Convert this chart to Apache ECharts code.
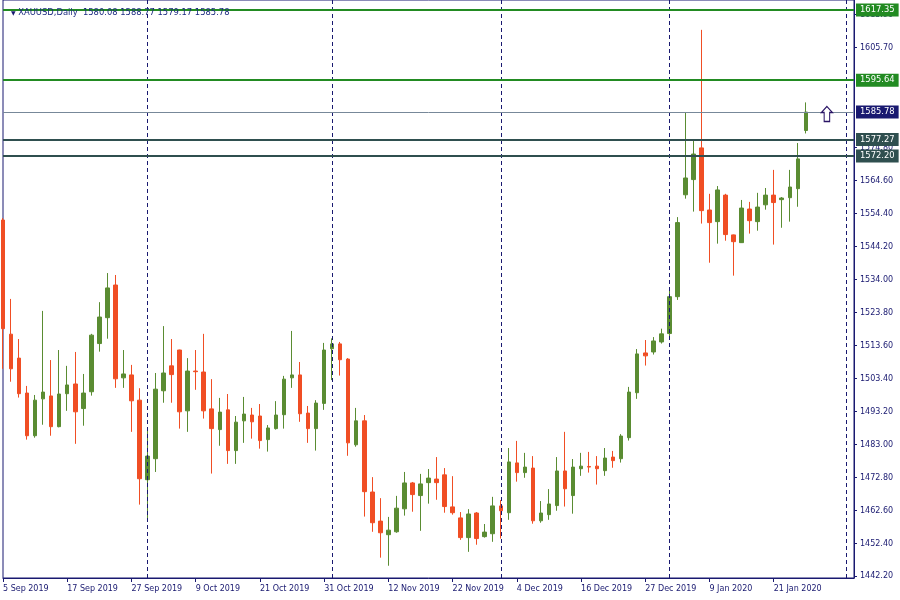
<!DOCTYPE html>
<html><head><meta charset="utf-8">
<script src="https://cdn.jsdelivr.net/npm/echarts@6/dist/echarts.min.js"></script>
<style>html,body{margin:0;padding:0;background:#fff}#c{width:900px;height:600px}</style>
</head><body><div id="c"></div>
<script>
const symbolName = 'XAUUSD,Daily';
const dates = [
'5 Sep 2019','6 Sep 2019','9 Sep 2019','10 Sep 2019','11 Sep 2019','12 Sep 2019','13 Sep 2019','16 Sep 2019',
'17 Sep 2019','18 Sep 2019','19 Sep 2019','20 Sep 2019','23 Sep 2019','24 Sep 2019','25 Sep 2019','26 Sep 2019',
'27 Sep 2019','30 Sep 2019','1 Oct 2019','2 Oct 2019','3 Oct 2019','4 Oct 2019','7 Oct 2019','8 Oct 2019',
'9 Oct 2019','10 Oct 2019','11 Oct 2019','14 Oct 2019','15 Oct 2019','16 Oct 2019','17 Oct 2019','18 Oct 2019',
'21 Oct 2019','22 Oct 2019','23 Oct 2019','24 Oct 2019','25 Oct 2019','28 Oct 2019','29 Oct 2019','30 Oct 2019',
'31 Oct 2019','1 Nov 2019','4 Nov 2019','5 Nov 2019','6 Nov 2019','7 Nov 2019','8 Nov 2019','11 Nov 2019',
'12 Nov 2019','13 Nov 2019','14 Nov 2019','15 Nov 2019','18 Nov 2019','19 Nov 2019','20 Nov 2019','21 Nov 2019',
'22 Nov 2019','25 Nov 2019','26 Nov 2019','27 Nov 2019','28 Nov 2019','29 Nov 2019','2 Dec 2019','3 Dec 2019',
'4 Dec 2019','5 Dec 2019','6 Dec 2019','9 Dec 2019','10 Dec 2019','11 Dec 2019','12 Dec 2019','13 Dec 2019',
'16 Dec 2019','17 Dec 2019','18 Dec 2019','19 Dec 2019','20 Dec 2019','23 Dec 2019','24 Dec 2019','26 Dec 2019',
'27 Dec 2019','30 Dec 2019','31 Dec 2019','2 Jan 2020','3 Jan 2020','6 Jan 2020','7 Jan 2020','8 Jan 2020',
'9 Jan 2020','10 Jan 2020','13 Jan 2020','14 Jan 2020','15 Jan 2020','16 Jan 2020','17 Jan 2020','20 Jan 2020',
'21 Jan 2020','22 Jan 2020','23 Jan 2020','24 Jan 2020','27 Jan 2020',
'28 Jan 2020','29 Jan 2020','30 Jan 2020','31 Jan 2020','3 Feb 2020','4 Feb 2020'
];
const opens = [
1552.4,1517.1,1509.7,1498.9,1485.7,1497.1,1498.0,1488.5,1498.7,1501.7,1494.1,1499.3,1514.2,1522.2,1532.3,1503.6,
1504.5,1496.7,1472.1,1478.6,1499.6,1507.3,1512.2,1493.4,1505.7,1505.4,1494.0,1487.6,1493.7,1481.1,1490.3,1492.1,
1491.8,1484.5,1487.9,1492.2,1503.6,1504.5,1492.7,1487.9,1495.7,1512.6,1514.1,1509.4,1482.9,1490.3,1468.3,1459.3,
1455.1,1456.0,1463.1,1471.1,1467.2,1471.2,1472.3,1473.6,1463.7,1460.3,1454.2,1461.8,1454.5,1455.4,1464.0,1461.9,
1477.3,1474.3,1475.7,1459.4,1461.3,1464.1,1474.8,1467.2,1475.5,1476.2,1476.3,1474.9,1479.1,1478.6,1485.1,1499.0,
1511.3,1511.6,1514.7,1517.3,1528.7,1560.2,1564.9,1574.7,1555.5,1551.9,1560.1,1547.8,1545.4,1555.8,1551.9,1557.1,
1560.1,1558.7,1559.3,1562.1,1580.08
];
const highs = [
1553.0,1528.0,1515.6,1501.1,1498.3,1524.3,1509.1,1512.2,1507.3,1511.6,1504.8,1517.2,1527.0,1536.0,1535.4,1512.2,
1507.6,1500.4,1487.5,1505.1,1519.6,1515.6,1512.3,1509.7,1512.2,1517.2,1503.2,1497.4,1498.6,1491.8,1497.7,1494.3,
1495.5,1489.0,1496.4,1504.2,1518.1,1508.5,1494.9,1496.7,1514.4,1515.8,1514.7,1509.7,1494.3,1492.1,1472.9,1466.4,
1460.6,1467.1,1474.5,1471.4,1473.9,1475.4,1479.1,1475.7,1473.2,1462.1,1463.0,1462.1,1458.4,1466.8,1465.8,1481.9,
1484.1,1480.4,1479.4,1465.5,1469.2,1479.1,1486.9,1478.5,1480.4,1480.7,1479.4,1481.9,1481.0,1486.2,1500.8,1512.5,
1515.3,1516.2,1518.8,1531.5,1553.3,1585.7,1576.9,1611.2,1560.5,1562.9,1560.5,1547.9,1558.6,1558.0,1560.8,1562.3,
1567.9,1559.5,1567.9,1576.2,1588.77
];
const lows = [
1506.4,1502.4,1497.5,1484.5,1485.1,1489.1,1485.7,1488.3,1493.4,1483.2,1488.8,1498.1,1511.7,1515.7,1500.5,1500.5,
1486.9,1464.4,1459.1,1474.5,1495.9,1495.9,1487.9,1486.9,1499.9,1491.0,1474.0,1482.6,1477.0,1477.0,1483.5,1484.8,
1481.7,1480.8,1487.6,1487.9,1500.5,1490.0,1483.5,1481.1,1493.7,1502.9,1504.3,1479.5,1482.3,1460.7,1456.0,1448.0,
1445.5,1455.7,1461.0,1462.2,1456.3,1464.7,1465.9,1461.9,1461.3,1453.5,1449.8,1452.0,1454.2,1452.9,1453.9,1459.7,
1471.5,1472.7,1458.5,1458.8,1459.7,1462.5,1463.8,1461.6,1473.3,1474.3,1470.6,1473.3,1475.8,1477.4,1484.2,1497.1,
1507.4,1510.8,1514.2,1516.0,1527.7,1559.0,1555.0,1551.3,1539.2,1545.1,1546.0,1535.2,1545.3,1548.2,1549.1,1555.6,
1544.8,1550.0,1551.9,1556.5,1579.17
];
const closes = [
1518.8,1506.4,1498.7,1485.7,1496.7,1499.2,1488.5,1498.6,1501.4,1493.1,1498.9,1516.8,1522.4,1531.4,1503.3,1504.8,
1496.5,1472.4,1479.4,1500.1,1505.1,1504.6,1493.1,1505.7,1505.5,1493.4,1487.9,1493.0,1481.1,1489.9,1492.4,1490.0,
1484.2,1488.1,1492.1,1503.2,1504.5,1492.5,1487.9,1495.8,1512.2,1514.1,1509.2,1483.5,1490.3,1468.4,1458.8,1455.7,
1456.5,1463.3,1471.1,1467.5,1470.8,1472.6,1471.2,1463.8,1461.9,1454.2,1461.5,1453.9,1455.9,1464.0,1462.5,1477.6,
1474.3,1476.0,1459.4,1461.8,1464.6,1474.8,1469.3,1476.0,1476.3,1476.0,1475.5,1478.8,1478.0,1485.6,1499.2,1511.0,
1510.4,1515.0,1517.2,1528.7,1551.6,1565.4,1572.8,1555.3,1551.6,1561.7,1547.9,1545.7,1556.1,1552.2,1556.4,1560.1,
1557.8,1559.2,1562.6,1571.3,1585.78
];
const levels = [1617.35, 1595.64, 1585.78, 1577.27, 1572.20];
const levelKinds = ['zone', 'zone', 'bid', 'level', 'level'];
const yTickValues = [1442.2,1452.4,1462.6,1472.8,1483.0,1493.2,1503.4,1513.6,1523.8,1534.0,1544.2,1554.4,1564.6,1574.8,1605.7,1615.9];
const arrowMark = {index: 103, price: 1585.2};

const NAVY = '#191970';
const FONT = 'DejaVu Sans';
const kindStyle = {
  zone:  {line: '#228B22', width: 2, box: '#228B22'},
  bid:   {line: '#778899', width: 1, box: '#191970'},
  level: {line: '#2F4F4F', width: 2, box: '#2F4F4F'}
};

const candles = opens.map((o, i) => [o, closes[i], lows[i], highs[i]]);
const monthOf = d => d.split(' ').slice(1).join(' ');
const separators = dates.map((d, i) => i > 0 && monthOf(d) !== monthOf(dates[i - 1]) ? d : null).filter(Boolean);
const last = opens.length - 1;
const showDateLabel = i => i % 8 === 0 && i <= last;

const sepLines = separators.map(d => ({
  xAxis: d,
  lineStyle: {color: NAVY, width: 1, type: [4, 3]},
  label: {show: false}
}));
const levelLines = levels.map((v, i) => {
  const s = kindStyle[levelKinds[i]];
  return {
    yAxis: v,
    lineStyle: {color: s.line, width: s.width, type: 'solid'},
    label: {
      show: true, position: 'end', distance: 2,
      formatter: v.toFixed(2),
      color: '#ffffff', backgroundColor: s.box,
      fontFamily: FONT, fontSize: 8.4, padding: [2, 4, 2, 4], lineHeight: 9
    }
  };
});

const chart = echarts.init(document.getElementById('c'), null, {renderer: 'canvas'});
chart.setOption({
  animation: false,
  backgroundColor: '#ffffff',
  title: {
    text: '{t|▼} ' + symbolName + '  ' + [opens[last], highs[last], lows[last], closes[last]].map(v => v.toFixed(2)).join(' '),
    left: 6, top: 4,
    textStyle: {
      fontFamily: FONT, fontSize: 8.4, fontWeight: 'normal', color: '#1c2a80',
      rich: {t: {fontSize: 6, color: NAVY, fontFamily: FONT}}
    }
  },
  grid: {left: 3, right: 46, top: 0, bottom: 22, show: true, borderColor: NAVY, borderWidth: 1, containLabel: false},
  xAxis: {
    type: 'category', data: dates, boundaryGap: false, max: 106.375,
    axisLine: {show: true, lineStyle: {color: NAVY, width: 1}},
    axisTick: {show: true, interval: (i) => showDateLabel(i), length: 4, lineStyle: {color: NAVY}},
    axisLabel: {
      interval: (i) => showDateLabel(i), align: 'left', margin: 7,
      color: NAVY, fontFamily: FONT, fontSize: 8, hideOverlap: false
    },
    splitLine: {show: false}
  },
  yAxis: {
    type: 'value', position: 'right', min: 1441.71, max: 1620.43, scale: true,
    axisLine: {show: true, lineStyle: {color: NAVY, width: 1}},
    axisTick: {show: true, length: 3, customValues: yTickValues, lineStyle: {color: NAVY}},
    axisLabel: {
      customValues: yTickValues, formatter: v => v.toFixed(2), margin: 6,
      color: NAVY, fontFamily: FONT, fontSize: 8
    },
    splitLine: {show: false}
  },
  series: [{
    type: 'line', data: [], z: 1, silent: true,
    markLine: {silent: true, symbol: ['none', 'none'], animation: false, data: sepLines}
  }, {
    type: 'candlestick',
    z: 2,
    data: candles,
    barWidth: 4,
    itemStyle: {
      color: '#5A8C32', color0: '#F04E24',
      borderColor: '#5A8C32', borderColor0: '#F04E24', borderWidth: 1
    },
    markLine: {
      silent: true, symbol: ['none', 'none'], animation: false,
      data: levelLines
    },
    markPoint: {
      silent: true, animation: false,
      data: [{
        coord: [arrowMark.index, arrowMark.price],
        symbol: 'path://M6,0 L12,6 L9,6 L9,15 L3,15 L3,6 L0,6 Z',
        symbolSize: [11, 15],
        symbolOffset: [-3, 0],
        itemStyle: {color: '#ffffff', borderColor: '#2a1466', borderWidth: 1.2},
        label: {show: false}
      }]
    }
  }]
});
</script></body></html>
